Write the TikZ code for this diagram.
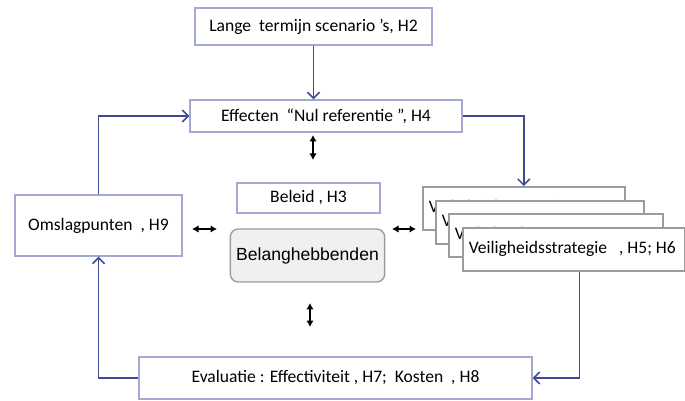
\documentclass[tikz,border=0pt]{standalone}
\usepackage{fontspec}
\setmainfont{Carlito}
\newfontfamily\arialfont{Liberation Sans}
\usepackage{xcolor}
\usetikzlibrary{arrows.meta}

\definecolor{boxline}{HTML}{A4A8D4}
\definecolor{flowline}{HTML}{3F4A92}
\definecolor{stackline}{HTML}{9C9C9C}
\definecolor{stakefill}{HTML}{F0F0F0}

\begin{document}
\begin{tikzpicture}[x=0.02cm,y=-0.02cm,
	box/.style={draw=boxline,line width=0.8pt,fill=white,inner sep=0pt,font=\fontsize{10}{12}\selectfont},
	stackbox/.style={draw=stackline,line width=0.9pt,fill=white,anchor=north west,
		inner xsep=0.12cm,inner ysep=0pt,minimum height=0.86cm,font=\fontsize{10}{12}\selectfont},
	flow/.style={draw=flowline,line width=0.85pt,-{Straight Barb[length=1.2mm,width=2.4mm]}},
	both/.style={black,line width=0.7pt,{Latex[length=1.3mm,width=1.5mm]}-{Latex[length=1.3mm,width=1.5mm]}}
	]
	\useasboundingbox (0,0) rectangle (685,401);
	
	\node[box,minimum width=4.74cm,minimum height=0.74cm] (scen) at (313.5,26.5) {Lange\ \ termijn scenario\ 's, H2};
	\node[box,minimum width=5.44cm,minimum height=0.64cm] (eff) at (326,116) {Effecten\ \ ``Nul referentie '', H4};
	\node[box,minimum width=2.86cm,minimum height=0.60cm] (beleid) at (308.5,198) {Beleid , H3};
	\node[draw=stackline,line width=0.8pt,fill=stakefill,rounded corners=0.16cm,minimum width=3.02cm,
		minimum height=1.06cm,font=\arialfont\fontsize{10}{12}\selectfont] (belang) at (307.5,255.5) {Belanghebbenden};
	\node[box,minimum width=3.34cm,minimum height=1.22cm] (omslag) at (98.5,225.5) {Omslagpunten\ \ , H9};
	\node[box,minimum width=7.86cm,minimum height=0.84cm] (eval) at (335.5,378) {Evaluatie : Effectiviteit , H7;\ \ Kosten\ \ , H8};
	
	% stapel strategieen
	\node[stackbox] (s1) at (422,186) {\makebox[3.80cm][l]{Veiligheidsstrategie\ \ \ , H5; H6}};
	\node[stackbox] (s2) at (435,200) {\makebox[3.92cm][l]{Veiligheidsstrategie\ \ \ , H5; H6}};
	\node[stackbox] (s3) at (448,213) {\makebox[4.04cm][l]{Veiligheidsstrategie\ \ \ , H5; H6}};
	\node[stackbox] (s4) at (462,227) {\makebox[4.20cm][l]{Veiligheidsstrategie\ \ \ , H5; H6}};
	
	\draw[flow] (scen.south) -- (scen.south |- eff.north);
	\draw[flow] (omslag.north) |- (eff.west);
	\draw[flow] (eff.east) -| (s1.north);
	\draw[flow] ([xshift=0.11cm]s4.south) |- (eval.east);
	\draw[flow] (eval.west) -| (omslag.south);
	
	% wisselwerking
	\coordinate (u1) at (313,135);
	\coordinate (u2) at (313,160);
	\coordinate (l1) at (192,229);
	\coordinate (l2) at (217,229);
	\coordinate (r1) at (392,229);
	\coordinate (r2) at (416,229);
	\coordinate (d1) at (310,303);
	\coordinate (d2) at (310,327);
	\draw[both] (u1) -- (u2);
	\draw[both] (l1) -- (l2);
	\draw[both] (r1) -- (r2);
	\draw[both] (d1) -- (d2);
\end{tikzpicture}
\end{document}
